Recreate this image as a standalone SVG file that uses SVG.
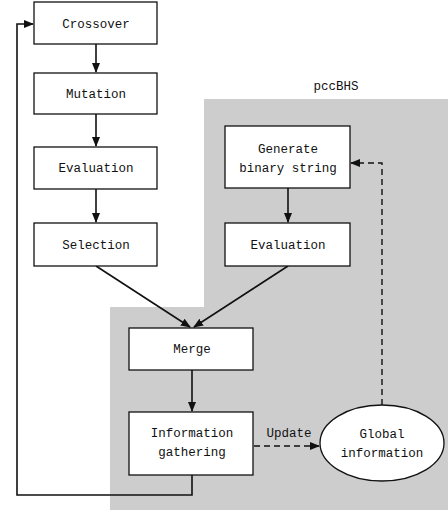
<svg xmlns="http://www.w3.org/2000/svg" width="448" height="510" viewBox="0 0 448 510">
<style>
.box{fill:#fff;stroke:#111;stroke-width:1.3}
.t{font-family:"Liberation Mono","DejaVu Sans Mono",monospace;font-size:12.5px;fill:#111;text-anchor:middle}
.c{fill:none;stroke:#111;stroke-width:1.6}
.d{fill:none;stroke:#111;stroke-width:1.4;stroke-dasharray:6,4}
</style>
<defs>
<marker id="a" markerWidth="10" markerHeight="8" refX="9" refY="4" orient="auto" markerUnits="userSpaceOnUse">
<path d="M0,0 L10,4 L0,8 Z" fill="#111"/>
</marker>
</defs>
<polygon id="shade" points="204,99 448,99 448,510 110,510 110,307 204,307" fill="#cdcdcd"/>
<text class="t" x="336" y="90">pccBHS</text>
<g id="connectors">
<line class="c" x1="96" y1="44" x2="96" y2="72" marker-end="url(#a)"/>
<line class="c" x1="96" y1="114" x2="96" y2="146" marker-end="url(#a)"/>
<line class="c" x1="96" y1="189" x2="96" y2="222" marker-end="url(#a)"/>
<line class="c" x1="96" y1="266" x2="190" y2="327" marker-end="url(#a)"/>
<line class="c" x1="288" y1="266" x2="194" y2="327" marker-end="url(#a)"/>
<line class="c" x1="288" y1="188" x2="288" y2="222" marker-end="url(#a)"/>
<line class="c" x1="192" y1="370" x2="192" y2="411" marker-end="url(#a)"/>
<polyline class="c" points="192,475 192,495 17,495 17,24 33,24" marker-end="url(#a)"/>
<line class="d" x1="254" y1="446" x2="319" y2="446" marker-end="url(#a)"/>
<polyline class="d" points="382,405 382,163 351,163" marker-end="url(#a)"/>
<text class="t" x="289" y="437">Update</text>
</g>
<g id="crossover"><rect class="box" x="34" y="2" width="123" height="42"/><text class="t" x="96" y="28">Crossover</text></g>
<g id="mutation"><rect class="box" x="34" y="73" width="123" height="41"/><text class="t" x="96" y="98">Mutation</text></g>
<g id="evaluation1"><rect class="box" x="34" y="147" width="123" height="42"/><text class="t" x="96" y="172">Evaluation</text></g>
<g id="selection"><rect class="box" x="34" y="223" width="123" height="43"/><text class="t" x="96" y="249">Selection</text></g>
<g id="generate"><rect class="box" x="225" y="126" width="125" height="62"/><text class="t" x="288" y="153">Generate</text><text class="t" x="288" y="172">binary string</text></g>
<g id="evaluation2"><rect class="box" x="225" y="223" width="125" height="43"/><text class="t" x="288" y="249">Evaluation</text></g>
<g id="merge"><rect class="box" x="129" y="328" width="124" height="42"/><text class="t" x="192" y="353">Merge</text></g>
<g id="info"><rect class="box" x="129" y="412" width="124" height="63"/><text class="t" x="192" y="437">Information</text><text class="t" x="192" y="456">gathering</text></g>
<g id="global"><ellipse class="box" cx="382" cy="443" rx="62" ry="38"/><text class="t" x="382" y="438">Global</text><text class="t" x="382" y="457">information</text></g>
</svg>
